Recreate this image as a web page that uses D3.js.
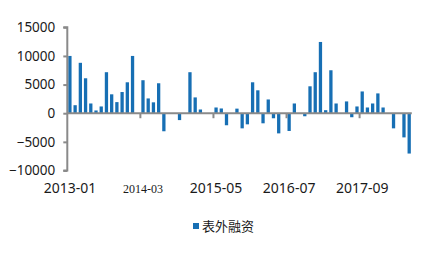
<!DOCTYPE html>
<html>
<head>
<meta charset="utf-8">
<script src="https://cdn.jsdelivr.net/npm/d3@7"></script>
<style>
  body { margin: 0; background: #fff; }
  svg { display: block; }
</style>
</head>
<body>
<div id="chart"></div>
<script>
// 月份 2013-01 .. 2018-06
var months = d3.timeMonths(new Date(2013, 0, 1), new Date(2018, 6, 1)).map(d3.timeFormat("%Y-%m"));

// 表外融资（亿元）
var offBalance = [
  10000, 1400, 8800, 6100, 1700, 480, 1180, 7160, 3300, 1940, 3700, 5400,
  10000, 0, 5760, 2580, 1900, 5230, -3150, 0, 0, -1200, 0, 7160,
  2760, 650, 0, 0, 1000, 830, -2100, 0, 800, -2640, -1940, 5400,
  4000, -1760, 2400, -880, -3520, 0, -3100, 1700, 0, -530, 4700, 7160,
  12440, 530, 7500, 1700, 0, 2060, -700, 1180, 3800, 1000, 1700, 3460,
  1000, 0, -2640, 0, -4220, -7040
];

var yTicks = [-10000, -5000, 0, 5000, 10000, 15000];
var xTickLabels = ["2013-01", "2014-03", "2015-05", "2016-07", "2017-09"];
var seriesName = "表外融资";

var width = 439, height = 260;
var barColor = "#176fb4", axisColor = "#8a8a8a";

var svg = d3.select("#chart").append("svg")
  .attr("width", width)
  .attr("height", height);

// 尺度
var x = d3.scaleBand()
  .domain(months)
  .range([67.3, 411.8])
  .paddingInner(0.37)
  .paddingOuter(0.185);

var y = d3.scaleLinear()
  .domain([-10000, 15000])
  .range([170.5, 27.3]);

// 柱子
svg.append("g")
  .selectAll("rect")
  .data(offBalance)
  .join("rect")
  .attr("x", function (d, i) { return x(months[i]); })
  .attr("width", x.bandwidth())
  .attr("y", function (d) { return y(Math.max(0, d)); })
  .attr("height", function (d) { return Math.abs(y(d) - y(0)); })
  .attr("fill", barColor);

// Y 轴
var yAxis = svg.append("g")
  .attr("transform", "translate(" + x.range()[0] + ",0)")
  .call(d3.axisLeft(y).tickValues(yTicks).tickSize(4).tickPadding(8).tickFormat(d3.format("d")));
yAxis.select(".domain").attr("stroke", axisColor).attr("stroke-width", 2).attr("d",
  "M-4," + y(15000) + "H0V" + y(-10000) + "H-4");
yAxis.selectAll(".tick line").attr("stroke", axisColor).attr("stroke-width", 2);
yAxis.selectAll(".tick text")
  .attr("fill", "#1a1a1a")
  .style("font-family", "'Noto Sans', 'DejaVu Sans', sans-serif")
  .style("font-size", "13.5px");

// 零线
svg.append("line")
  .attr("x1", x.range()[0]).attr("x2", x.range()[1])
  .attr("y1", y(0)).attr("y2", y(0))
  .attr("stroke", axisColor)
  .attr("stroke-width", 2);

// X 轴刻度和标签（每 14 个月）
var labelIdx = xTickLabels.map(function (l) { return months.indexOf(l); });
svg.append("g")
  .selectAll("line")
  .data(labelIdx.filter(function (i) { return i > 0; }))
  .join("line")
  .attr("x1", function (i) { return x.range()[0] + i * x.step(); })
  .attr("x2", function (i) { return x.range()[0] + i * x.step(); })
  .attr("y1", y(0))
  .attr("y2", y(0) + 5)
  .attr("stroke", axisColor)
  .attr("stroke-width", 2);

svg.append("g")
  .selectAll("text")
  .data(xTickLabels)
  .join("text")
  .attr("x", function (d) { return x(d) + x.bandwidth() / 2; })
  .attr("y", 193)
  .attr("text-anchor", "middle")
  .attr("fill", "#1a1a1a")
  .style("font-family", function (d) { return d === "2014-03" ? "'Liberation Serif', 'DejaVu Serif', serif" : "'Noto Sans', 'DejaVu Sans', sans-serif"; })
  .style("font-size", function (d) { return d === "2014-03" ? "12px" : "14px"; })
  .text(function (d) { return d; });

// 图例
svg.append("rect")
  .attr("x", 193).attr("y", 223)
  .attr("width", 6).attr("height", 6)
  .attr("fill", barColor);
svg.append("text")
  .attr("x", 202).attr("y", 231)
  .attr("fill", "#1a1a1a")
  .style("font-family", "'Noto Sans CJK SC', sans-serif")
  .style("font-size", "13px")
  .text(seriesName);
</script>
</body>
</html>
